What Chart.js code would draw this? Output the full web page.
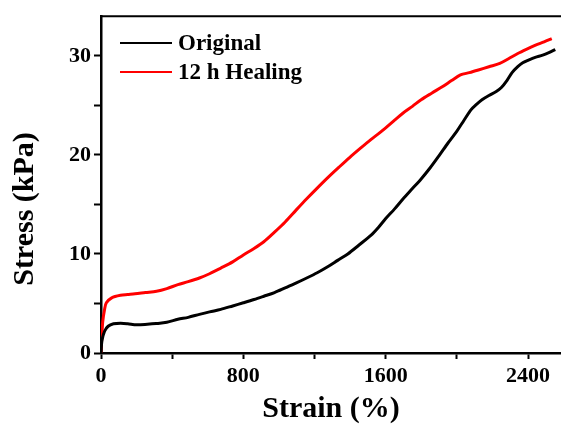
<!DOCTYPE html>
<html><head><meta charset="utf-8">
<script src="https://cdn.jsdelivr.net/npm/chart.js@4.4.0/dist/chart.umd.min.js"></script>
<style>html,body{margin:0;padding:0;background:#fff}#w{width:561px;height:427px}</style>
</head><body><div id="w"><canvas id="c" width="561" height="427"></canvas></div>
<script>
const seriesNames = ["Original", "12 h Healing"];
const originalStrain = [0, 5, 20, 40, 70, 110, 150, 200, 260, 310, 370, 432, 490, 553, 610, 673, 740, 800, 860, 915, 975, 1035, 1095, 1156, 1215, 1276, 1330, 1387, 1450, 1518, 1560, 1600, 1650, 1698, 1750, 1799, 1850, 1899, 1950, 2000, 2040, 2080, 2110, 2141, 2180, 2221, 2250, 2281, 2310, 2342, 2370, 2402, 2440, 2482, 2520, 2553];
const originalStress = [0, 1.2, 2.2, 2.7, 2.95, 3.0, 2.95, 2.85, 2.9, 2.97, 3.1, 3.4, 3.6, 3.9, 4.15, 4.4, 4.75, 5.07, 5.4, 5.73, 6.1, 6.57, 7.05, 7.57, 8.1, 8.73, 9.35, 10.0, 10.9, 11.9, 12.7, 13.57, 14.55, 15.57, 16.6, 17.57, 18.7, 19.9, 21.2, 22.4, 23.5, 24.57, 25.1, 25.57, 26.0, 26.4, 26.8, 27.5, 28.3, 28.9, 29.3, 29.57, 29.85, 30.07, 30.35, 30.63];
const healingStrain = [0, 5, 10, 20, 30, 60, 110, 150, 191, 250, 312, 370, 432, 490, 553, 610, 673, 740, 800, 860, 915, 975, 1035, 1095, 1156, 1215, 1276, 1340, 1397, 1460, 1518, 1560, 1600, 1650, 1698, 1750, 1799, 1860, 1920, 1970, 2020, 2070, 2121, 2180, 2241, 2290, 2342, 2390, 2442, 2490, 2533];
const healingStress = [0, 1.8, 3.2, 4.4, 5.07, 5.57, 5.83, 5.9, 5.97, 6.1, 6.23, 6.5, 6.9, 7.2, 7.57, 8.0, 8.57, 9.2, 9.9, 10.55, 11.23, 12.2, 13.23, 14.4, 15.57, 16.65, 17.73, 18.8, 19.73, 20.7, 21.57, 22.15, 22.73, 23.5, 24.23, 24.9, 25.57, 26.25, 26.9, 27.5, 28.07, 28.3, 28.57, 28.9, 29.23, 29.7, 30.23, 30.65, 31.07, 31.4, 31.73];
const xTickLabels = [0, 800, 1600, 2400];
const yTickLabels = [0, 10, 20, 30];
const colors = ["#000000", "#ff0000"];

const toPts = (xs, ys) => xs.map((x, i) => ({x: x, y: ys[i]}));
const FONT = "'Liberation Serif','Times New Roman',serif";

const customDraw = {
  id: 'customDraw',
  afterDraw(chart) {
    const ctx = chart.ctx, a = chart.chartArea;
    ctx.save();
    ctx.strokeStyle = '#000'; ctx.lineWidth = 2;
    ctx.beginPath(); ctx.moveTo(a.left - 1, a.top); ctx.lineTo(a.right, a.top); ctx.stroke();
    const ly = [43, 72];
    ctx.font = "bold 23px " + FONT;
    ctx.textBaseline = 'middle';
    seriesNames.forEach((n, i) => {
      ctx.strokeStyle = colors[i]; ctx.lineWidth = 2;
      ctx.beginPath(); ctx.moveTo(120, ly[i]); ctx.lineTo(172, ly[i]); ctx.stroke();
      ctx.fillStyle = '#000';
      ctx.fillText(n, 178, ly[i] + 1);
    });
    ctx.translate(25, 209);
    ctx.rotate(-Math.PI / 2);
    ctx.textAlign = 'center';
    ctx.font = "bold 30px " + FONT;
    ctx.fillText('Stress (kPa)', 0, 0);
    ctx.restore();
  }
};

new Chart(document.getElementById('c'), {
  type: 'line',
  data: {
    datasets: [
      {label: seriesNames[0], data: toPts(originalStrain, originalStress), borderColor: colors[0], borderWidth: 3, pointRadius: 0, tension: 0.3},
      {label: seriesNames[1], data: toPts(healingStrain, healingStress), borderColor: colors[1], borderWidth: 3, pointRadius: 0, tension: 0.3}
    ]
  },
  options: {
    responsive: false, animation: false, devicePixelRatio: 1,
    layout: {padding: {top: 12, right: 0, left: 0, bottom: 0}},
    plugins: {legend: {display: false}, tooltip: {enabled: false}},
    scales: {
      x: {
        type: 'linear', min: 0, max: 2585,
        afterFit: s => { s.height = 74; },
        afterBuildTicks: s => { s.ticks = []; for (let v = 0; v <= 2585; v += 400) s.ticks.push({value: v}); },
        ticks: {
          callback: v => xTickLabels.includes(v) ? String(v) : '',
          font: {family: FONT, size: 22, weight: 'bold'}, color: '#000', padding: 4, maxRotation: 0, autoSkip: false
        },
        grid: {drawOnChartArea: false, drawTicks: true, tickLength: 6, tickWidth: 2, tickColor: '#000'},
        border: {display: true, color: '#000', width: 2.5},
        title: {display: true, text: 'Strain (%)', font: {family: FONT, size: 30, weight: 'bold'}, color: '#000', padding: {top: 0, bottom: 0}}
      },
      y: {
        min: 0, max: 34,
        afterFit: s => { s.width = 101; },
        afterBuildTicks: s => { s.ticks = []; for (let v = 0; v <= 34; v += 5) s.ticks.push({value: v}); },
        ticks: {
          callback: v => yTickLabels.includes(v) ? String(v) : '',
          font: {family: FONT, size: 22, weight: 'bold'}, color: '#000', padding: 3, autoSkip: false
        },
        grid: {drawOnChartArea: false, drawTicks: true, tickLength: 7, tickWidth: 2, tickColor: '#000'},
        border: {display: true, color: '#000', width: 2.5}
      }
    }
  },
  plugins: [customDraw]
});
</script>
</body></html>
